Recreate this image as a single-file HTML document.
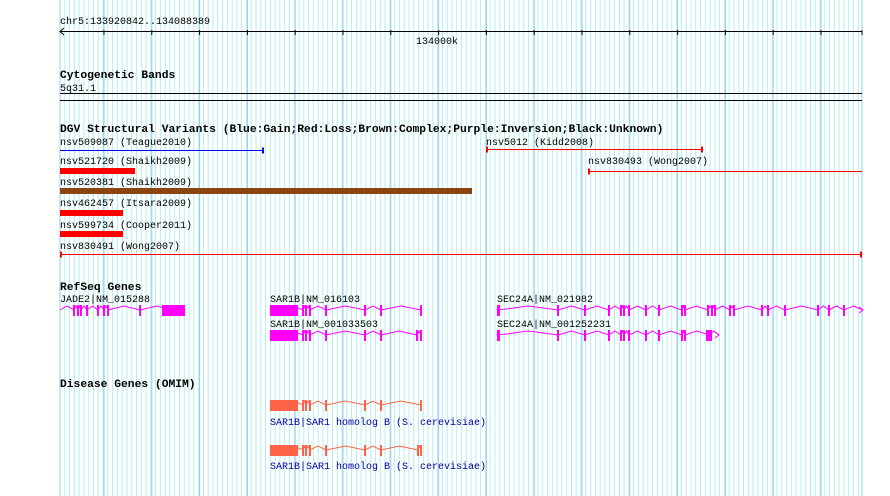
<!DOCTYPE html>
<html><head><meta charset="utf-8"><style>
html,body{margin:0;padding:0;background:#fff;}
svg{display:block;}
text{font-family:"Liberation Mono","DejaVu Sans Mono",monospace;font-size:10px;fill:#000;}
.t{font-weight:bold;font-size:11.3px;}
.b{fill:#0000a0;}
</style></head><body>
<svg id="s" width="890" height="496" xmlns="http://www.w3.org/2000/svg">
<g id="grid"></g>
<text x="60" y="24">chr5:133920842..134088389</text>
<text x="416" y="44">134000k</text>
<text class="t" x="60" y="78">Cytogenetic Bands</text>
<text x="60" y="91">5q31.1</text>
<text class="t" x="60" y="132">DGV Structural Variants (Blue:Gain;Red:Loss;Brown:Complex;Purple:Inversion;Black:Unknown)</text>
<text x="60" y="145">nsv509087 (Teague2010)</text>
<text x="486" y="145">nsv5012 (Kidd2008)</text>
<text x="60" y="164">nsv521720 (Shaikh2009)</text>
<text x="588" y="164">nsv830493 (Wong2007)</text>
<text x="60" y="185">nsv520381 (Shaikh2009)</text>
<text x="60" y="206">nsv462457 (Itsara2009)</text>
<text x="60" y="228">nsv599734 (Cooper2011)</text>
<text x="60" y="249">nsv830491 (Wong2007)</text>
<text class="t" x="60" y="290">RefSeq Genes</text>
<text x="60" y="302">JADE2|NM_015288</text>
<text x="270" y="302">SAR1B|NM_016103</text>
<text x="270" y="327">SAR1B|NM_001033503</text>
<text x="497" y="302">SEC24A|NM_021982</text>
<text x="497" y="327">SEC24A|NM_001252231</text>
<text class="t" x="60" y="387">Disease Genes (OMIM)</text>
<text class="b" x="270" y="425">SAR1B|SAR1 homolog B (S. cerevisiae)</text>
<text class="b" x="270" y="469">SAR1B|SAR1 homolog B (S. cerevisiae)</text>
<g id="f"></g>
</svg>
<script>
var NS="http://www.w3.org/2000/svg";
function el(p,t,a){var e=document.createElementNS(NS,t);for(var k in a)e.setAttribute(k,a[k]);p.appendChild(e);return e;}
var g=document.getElementById("grid"),f=document.getElementById("f");
for(var x=60;x<=862.5;x+=4.78){el(g,"line",{x1:x.toFixed(1),x2:x.toFixed(1),y1:0,y2:496,stroke:"#b4eeee","stroke-width":1});}
for(var x=104;x<862;x+=47.8){el(g,"line",{x1:x.toFixed(1),x2:x.toFixed(1),y1:0,y2:496,stroke:"#96ccf2","stroke-width":1});}
el(g,"line",{x1:60,x2:60,y1:0,y2:496,stroke:"#96ccf2"});
el(g,"line",{x1:862,x2:862,y1:0,y2:496,stroke:"#96ccf2"});
el(f,"line",{x1:60,x2:862,y1:31.5,y2:31.5,stroke:"#000"});
el(f,"polyline",{points:"64,28 60,31.5 64,35",fill:"none",stroke:"#000"});
for(var x=104;x<862;x+=47.8){el(f,"line",{x1:x,x2:x,y1:30,y2:35,stroke:"#000"});}
el(f,"line",{x1:862,x2:862,y1:30,y2:35,stroke:"#000"});
el(f,"line",{x1:60,x2:862,y1:93.5,y2:93.5,stroke:"#000"});
el(f,"line",{x1:60,x2:862,y1:100.5,y2:100.5,stroke:"#000"});
function seg(x1,x2,y,c,lt,rt){el(f,"line",{x1:x1,x2:x2,y1:y,y2:y,stroke:c,"stroke-width":1});
 if(lt)el(f,"rect",{x:x1,y:y-3,width:2,height:6,fill:c});
 if(rt)el(f,"rect",{x:x2-2,y:y-3,width:2,height:6,fill:c});}
seg(60,264,150.5,"#0000ff",false,true);
seg(486,703,149.5,"#ff0000",true,true);
seg(588,862,171.5,"#ff0000",true,false);
seg(60,862,254.5,"#ff0000",true,true);
el(f,"rect",{x:60,y:168,width:75,height:6,fill:"#ff0000"});
el(f,"rect",{x:60,y:188,width:412,height:6,fill:"#8b4513"});
el(f,"rect",{x:60,y:210,width:63,height:6,fill:"#ff0000"});
el(f,"rect",{x:60,y:231,width:63,height:6,fill:"#ff0000"});
function gene(y,start,end,exons,col,arrow){
 var xs=[start];exons.forEach(function(e){xs.push(e[0]+e[1]/2);});xs.push(end);
 xs.sort(function(a,b){return a-b;});
 var p=xs[0]+","+y;
 for(var i=1;i<xs.length;i++){var m=(xs[i-1]+xs[i])/2;p+=" "+m+","+(y-4)+" "+xs[i]+","+y;}
 el(f,"polyline",{points:p,fill:"none",stroke:col,"stroke-width":1});
 exons.forEach(function(e){el(f,"rect",{x:e[0],y:y-5,width:e[1],height:11,fill:col});});
 if(arrow)el(f,"polyline",{points:(end-4)+","+(y-3)+" "+end+","+y+" "+(end-4)+","+(y+3),fill:"none",stroke:col});
}
var M="#ff00ff",O="#ff6347";
gene(310,60,185,[[73,2],[77,2],[80,2],[86,2],[97,2],[103,2],[107,2],[139,2],[162,23]],M);
var sar=[[270,28],[302,2],[305,2],[309,2],[325,2],[364,2],[380,2],[420,2]];
gene(310,270,421,sar,M);
gene(335,270,421,[[270,28],[302,2],[305,2],[309,2],[325,2],[364,2],[380,2],[416,2],[420,2]],M);
var sec=[497,557,584,608,620,623,628,645,658,681,684,707,711,714,729,733,761,767,784,817,828,843];
gene(310,497,863,sec.map(function(x){return x==497?[497,3]:[x,2];}),M,true);
gene(335,497,719,[497,557,584,608,620,623,628,645,658,681,684].map(function(x){return x==497?[497,3]:[x,2];}).concat([[706,6]]),M,true);
gene(405,270,421,sar,O);
gene(450,270,421,[[270,28],[302,2],[305,2],[309,2],[325,2],[364,2],[380,2],[417,2],[420,2]],O);
</script>
</body></html>
